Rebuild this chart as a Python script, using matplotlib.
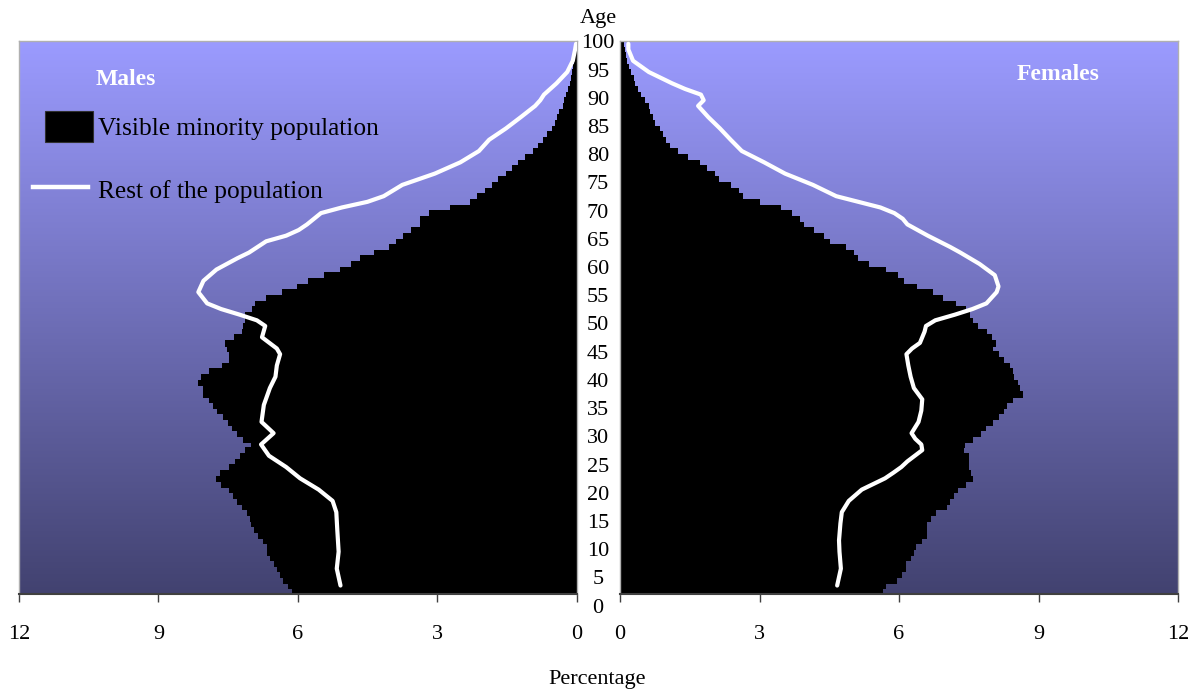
import numpy as np
import matplotlib.pyplot as plt
from matplotlib.patches import Rectangle
from matplotlib.lines import Line2D
from matplotlib.transforms import blended_transform_factory

plt.rcParams['font.family'] = ['Liberation Serif', 'DejaVu Serif']

# single years of age shown by the bars
ages = np.arange(3, 101)

# visible minority population, % by single year of age (ages 3..100)
males_vm = [
    6.12, 6.22, 6.32, 6.38, 6.45, 6.52, 6.60,              # 3-9
    6.67, 6.67, 6.75, 6.86, 6.95, 7.00, 7.03, 7.10, 7.21, 7.30,  # 10-19
    7.39, 7.49, 7.65, 7.76, 7.67, 7.49, 7.35, 7.24, 7.13, 7.01,  # 20-29
    7.17, 7.31, 7.42, 7.50, 7.60, 7.74, 7.82, 7.92, 8.04, 8.04,  # 30-39
    8.14, 8.09, 7.92, 7.64, 7.47, 7.47, 7.53, 7.56, 7.37, 7.21,  # 40-49
    7.17, 7.13, 7.13, 6.99, 6.92, 6.68, 6.33, 6.02, 5.79, 5.43,  # 50-59
    5.09, 4.85, 4.66, 4.36, 4.03, 3.88, 3.74, 3.56, 3.37, 3.37,  # 60-69
    3.17, 2.72, 2.29, 2.15, 1.98, 1.82, 1.68, 1.52, 1.38, 1.25,  # 70-79
    1.11, 0.94, 0.82, 0.73, 0.63, 0.53, 0.46, 0.43, 0.37, 0.30,  # 80-89
    0.27, 0.23, 0.19, 0.15, 0.12, 0.10, 0.07, 0.05, 0.03, 0.02,  # 90-99
    0.01,                                                    # 100
]
females_vm = [
    5.64, 5.70, 5.93, 6.04, 6.13, 6.13, 6.23,              # 3-9
    6.31, 6.34, 6.47, 6.59, 6.59, 6.59, 6.66, 6.77, 7.02, 7.08,  # 10-19
    7.17, 7.25, 7.42, 7.58, 7.52, 7.48, 7.49, 7.49, 7.38, 7.40,  # 20-29
    7.58, 7.74, 7.86, 8.00, 8.13, 8.24, 8.31, 8.42, 8.64, 8.59,  # 30-39
    8.53, 8.46, 8.42, 8.37, 8.24, 8.13, 7.99, 8.06, 7.97, 7.88,  # 40-49
    7.68, 7.56, 7.51, 7.42, 7.20, 6.92, 6.71, 6.36, 6.09, 5.95,  # 50-59
    5.70, 5.34, 5.10, 5.02, 4.84, 4.50, 4.37, 4.15, 3.94, 3.85,  # 60-69
    3.68, 3.44, 2.99, 2.62, 2.54, 2.36, 2.11, 2.02, 1.85, 1.70,  # 70-79
    1.44, 1.22, 1.05, 0.97, 0.90, 0.83, 0.74, 0.69, 0.62, 0.60,  # 80-89
    0.51, 0.43, 0.36, 0.31, 0.27, 0.22, 0.17, 0.13, 0.10, 0.08,  # 90-99
    0.06,                                                    # 100
]

# rest of the population (white curves), read at selected ages
rest_age_m = [4, 7, 10, 14, 17, 19, 21, 23, 25, 27, 29, 31, 33, 36, 39, 41,
              43, 45, 46, 48, 50, 51, 52, 53, 54, 56, 58, 60, 62, 63, 65, 66,
              67, 68, 69, 70, 71, 72, 73, 75, 77, 79, 81, 83, 85, 87, 89, 90,
              91, 93, 95, 97, 99, 100]
rest_pct_m = [5.08, 5.16, 5.12, 5.15, 5.17, 5.25, 5.55, 5.95, 6.25, 6.62,
              6.79, 6.52, 6.78, 6.73, 6.60, 6.48, 6.45, 6.38, 6.45, 6.77,
              6.70, 6.88, 7.25, 7.65, 7.95, 8.14, 8.03, 7.75, 7.30, 7.05,
              6.68, 6.25, 5.98, 5.80, 5.65, 5.50, 5.05, 4.50, 4.15, 3.75,
              3.05, 2.50, 2.10, 1.88, 1.52, 1.20, 0.89, 0.78, 0.70, 0.43,
              0.20, 0.08, 0.03, 0.01]
rest_age_f = [4, 7, 10, 12, 15, 17, 19, 21, 22, 23, 24, 25, 26, 28, 29, 30,
              31, 33, 35, 37, 39, 41, 43, 45, 46, 47, 49, 50, 51, 52, 53, 54,
              56, 57, 59, 61, 63, 64, 66, 68, 69, 70, 71, 73, 75, 77, 79, 81,
              83, 85, 87, 89, 90, 91, 92, 93, 95, 97, 99, 100]
rest_pct_f = [4.67, 4.75, 4.72, 4.71, 4.74, 4.77, 4.92, 5.20, 5.45, 5.70,
              5.88, 6.05, 6.18, 6.50, 6.48, 6.35, 6.27, 6.42, 6.48, 6.50,
              6.32, 6.25, 6.20, 6.16, 6.28, 6.45, 6.55, 6.58, 6.78, 7.20,
              7.58, 7.88, 8.10, 8.14, 8.06, 7.73, 7.32, 7.10, 6.62, 6.18,
              6.08, 5.90, 5.60, 4.65, 4.15, 3.55, 3.10, 2.62, 2.38, 2.15,
              1.90, 1.68, 1.80, 1.74, 1.40, 1.12, 0.62, 0.28, 0.18, 0.18]

age_labels = list(range(0, 101, 5))
pct_ticks = [0, 3, 6, 9, 12]

W, H = 1195, 690
fig = plt.figure(figsize=(W / 100, H / 100), dpi=100)


def px_box(x0, x1, y0, y1):
    return [x0 / W, 1 - y1 / H, (x1 - x0) / W, (y1 - y0) / H]


ax_m = fig.add_axes(px_box(19, 576.5, 41, 594))
ax_f = fig.add_axes(px_box(620, 1178, 41, 594))

# vertical gradient for the plot area
top_c = np.array([155, 155, 255]) / 255
bot_c = np.array([66, 66, 112]) / 255
t = np.linspace(0, 1, 300)[:, None, None]
grad = top_c + (bot_c - top_c) * t

for ax, vals, r_age, r_pct in [(ax_m, males_vm, rest_age_m, rest_pct_m),
                               (ax_f, females_vm, rest_age_f, rest_pct_f)]:
    ax.imshow(grad, extent=[0, 1, 0, 1], transform=ax.transAxes,
              aspect='auto', zorder=0, interpolation='bilinear')
    ax.barh(ages, vals, height=1.0, color='black', edgecolor='black',
            linewidth=0.6, antialiased=False, zorder=2)
    ax.plot(r_pct, r_age, color='white', lw=3, zorder=3,
            solid_joinstyle='round', solid_capstyle='round')
    ax.set_ylim(2.5, 100.5)
    ax.set_yticks([])
    ax.set_xticks(pct_ticks)
    ax.tick_params(axis='x', direction='out', length=6, width=1,
                   color='#404040', labelsize=16, pad=16)
    for side in ['top', 'left', 'right']:
        ax.spines[side].set_color('#b0b0b0')
        ax.spines[side].set_linewidth(1)
    ax.spines['bottom'].set_color('#404040')
    ax.spines['bottom'].set_linewidth(1.5)

ax_m.set_xlim(12, 0)
ax_f.set_xlim(0, 12)

# age labels in the gap between the two panels
trans = blended_transform_factory(ax_m.transAxes, ax_m.transData)
x_lab = (598 - 19) / (576.5 - 19)
for a in age_labels:
    ax_m.text(x_lab, a, str(a), transform=trans, ha='center', va='center',
              fontsize=16, clip_on=False)

fig.text(598 / W, 1 - 23 / H, 'Age', ha='center', va='baseline', fontsize=16)
fig.text(597 / W, 1 - 684 / H, 'Percentage', ha='center', va='baseline',
         fontsize=16)

fig.text(96 / W, 1 - 85 / H, 'Males', color='white', fontweight='bold',
         fontsize=17, va='baseline')
fig.text(1017 / W, 1 - 80 / H, 'Females', color='white', fontweight='bold',
         fontsize=17, va='baseline')

# legend
fig.add_artist(Rectangle((45 / W, 1 - 142 / H), 48 / W, 31 / H,
                         transform=fig.transFigure, facecolor='black',
                         edgecolor='#303030', linewidth=0.8))
fig.add_artist(Line2D([33 / W, 88 / W], [1 - 187 / H, 1 - 187 / H],
                      transform=fig.transFigure, color='white', lw=3.2))
fig.text(98 / W, 1 - 135 / H, 'Visible minority population', fontsize=18.3,
         va='baseline')
fig.text(98 / W, 1 - 198 / H, 'Rest of the population', fontsize=18.3,
         va='baseline')

fig.savefig('out.png', dpi=100)
